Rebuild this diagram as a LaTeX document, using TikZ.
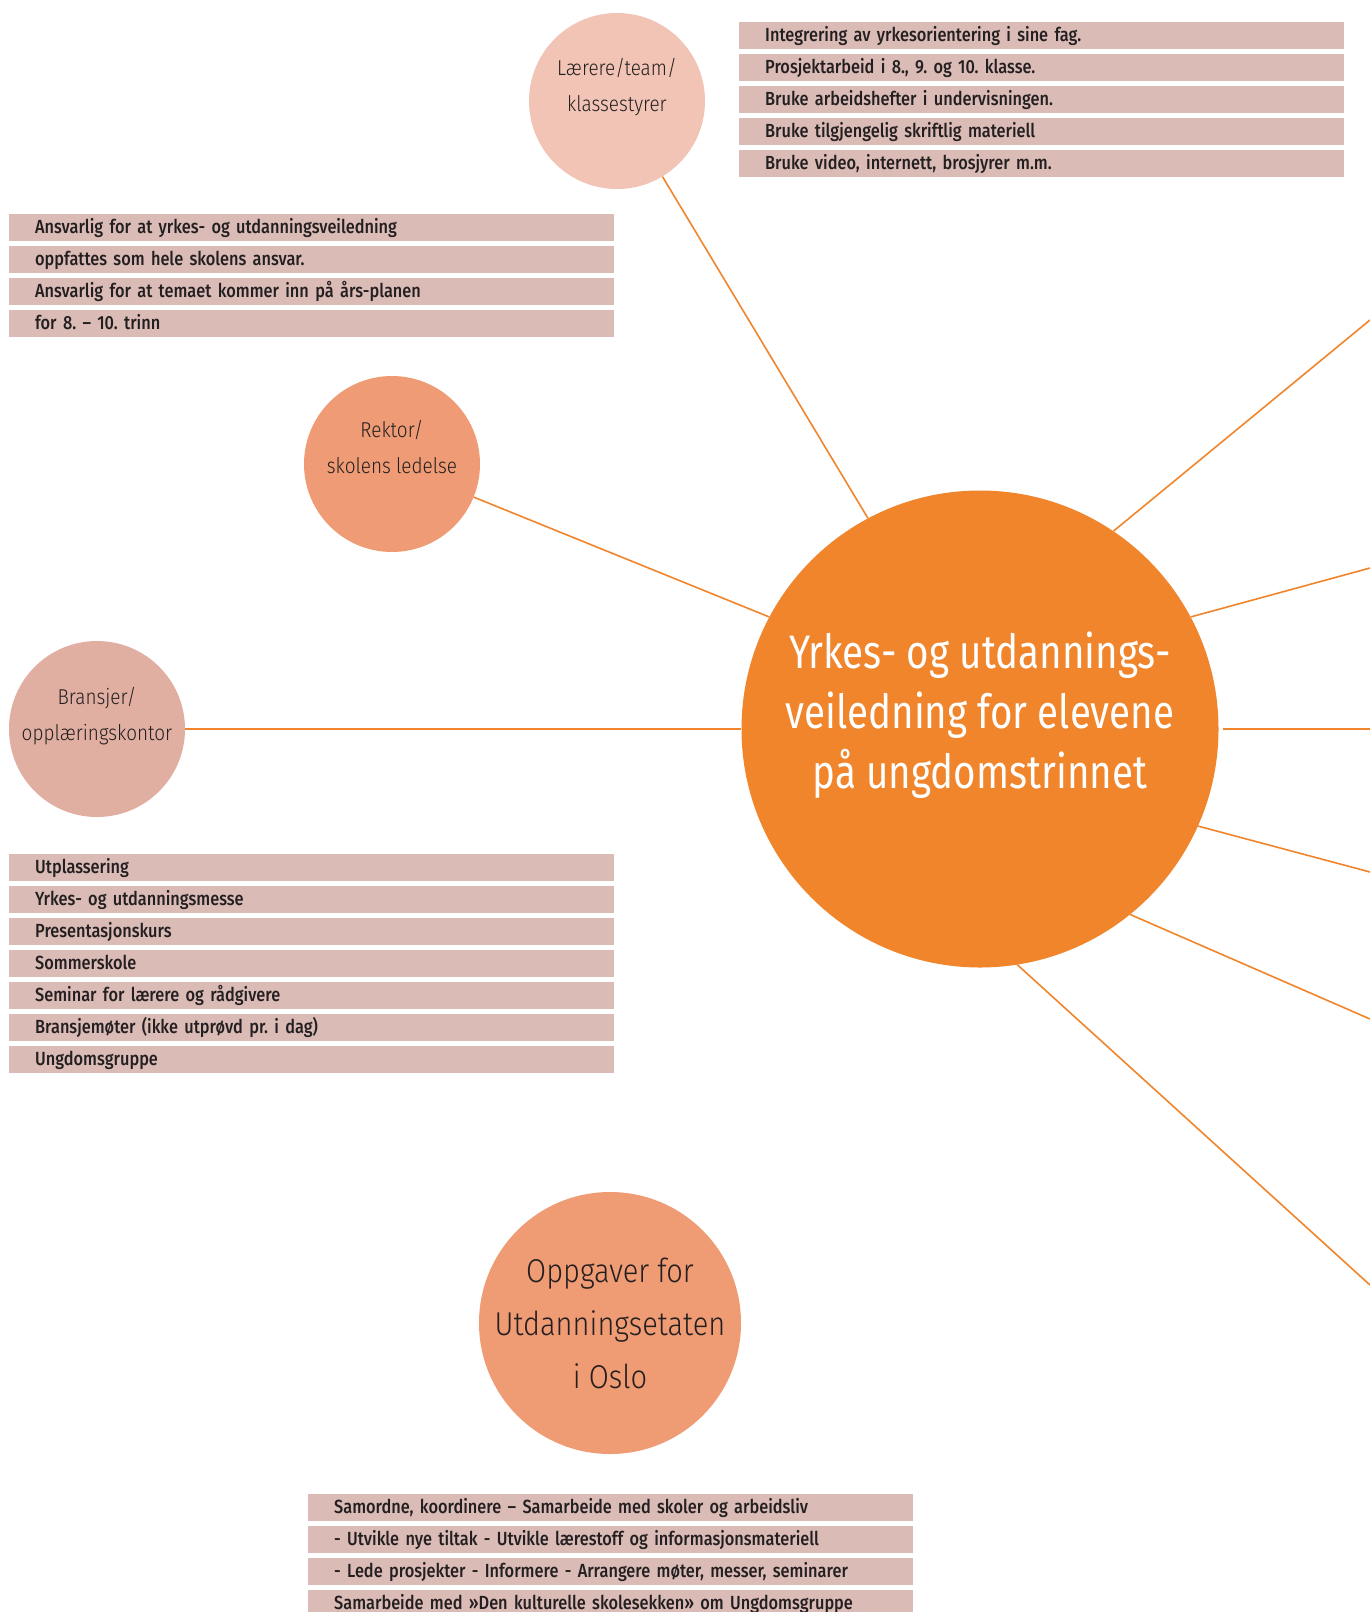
\documentclass[tikz,border=0pt]{standalone}
\usepackage{fontspec}
\setmainfont{Fira Sans}
\IfFontExistsTF{Fira Sans Book}
  {\newfontfamily\circfont[FakeStretch=0.88]{Fira Sans Book}}
  {\IfFontExistsTF{Fira Sans Light}
    {\newfontfamily\circfont[FakeStretch=0.88]{Fira Sans Light}}
    {\newfontfamily\circfont[FakeStretch=0.88]{Fira Sans}}}
\IfFontExistsTF{Fira Sans Medium}
  {\newfontfamily\barfont[FakeStretch=0.86]{Fira Sans Medium}}
  {\newfontfamily\barfont[FakeStretch=0.88]{Fira Sans}}
\newfontfamily\centfont[FakeStretch=0.82]{Fira Sans}
\definecolor{centcol}{HTML}{F0852C}
\definecolor{larcol}{HTML}{F2C4B5}
\definecolor{rekcol}{HTML}{EF9B75}
\definecolor{bracol}{HTML}{E1AFA2}
\definecolor{oppcol}{HTML}{EF9B73}
\definecolor{barcol}{HTML}{DABBB5}
\definecolor{lncol}{HTML}{F0852C}
\definecolor{txt}{HTML}{231F20}
\frenchspacing
\begin{document}
\begin{tikzpicture}[x=1pt,y=-1pt,
  bar/.style={fill=barcol, anchor=north west, minimum height=26.5pt,
    text width=553pt, inner xsep=26pt, inner ysep=0pt, align=left,
    text height=12.8pt, text depth=0pt, text=txt,
    font=\barfont\fontsize{19}{20}\selectfont},
  circ/.style={circle, minimum size=176pt, inner sep=0pt},
  ctext/.style={align=center, inner sep=0pt, text=txt,
    font=\circfont\fontsize{21.5}{35.5}\selectfont},
  conn/.style={draw=lncol, line width=1.6pt}]
\useasboundingbox (0,0) rectangle (1370,1612);
\clip (0,0) rectangle (1370,1612);
\fill[white] (0,0) rectangle (1370,1612);

% circles
\node[circle, minimum size=477pt, inner sep=0pt, fill=centcol] (c) at (980,729) {};
\node[circ, fill=larcol] (lar) at (617,101) {};
\node[circ, fill=rekcol] (rek) at (392,464) {};
\node[circ, fill=bracol] (bra) at (97,729) {};
\node[circle, minimum size=262pt, inner sep=0pt, fill=oppcol] (opp) at (610,1323) {};

% circle texts
\node[align=center, inner sep=0pt, text=white,
  font=\centfont\fontsize{47}{60}\selectfont] (ct) at (980,715.5)
  {Yrkes- og utdannings-\\veiledning for elevene\\på ungdomstrinnet};
\node[ctext] (lart) at (617,87) {Lærere/team/\\klassestyrer};
\node[ctext] (rekt) at (392,447) {Rektor/\\skolens ledelse};
\node[ctext] (brat) at (97,716) {Bransjer/\\opplæringskontor};
\node[align=center, inner sep=0pt, text=txt,
  font=\circfont\fontsize{33}{53}\selectfont] (oppt) at (610,1323)
  {Oppgaver for\\Utdanningsetaten\\i Oslo};

% connectors
\draw[conn] (lar) -- (c.118);
\draw[conn] (rek) -- (c.152.5);
\draw[conn] (bra) -- (c);
\coordinate (e1) at (1370,320);
\coordinate (e2) at (1370,568);
\coordinate (e3) at (1370,729);
\coordinate (e4) at (1370,872);
\coordinate (e5) at (1370,1019);
\coordinate (e6) at (1370,1285);
\draw[conn] (c.56.4) -- (e1);
\draw[conn] (c.28.3) -- (e2);
\draw[conn] ([xshift=4pt]c.east) -- (e3);
\draw[conn] (c.-24.7) -- (e4);
\draw[conn] (c.-51.8) -- (e5);
\draw[conn] (c.-81.8) -- (e6);

% Lærere bars
\node[bar] (l1) at (739,22) {Integrering av yrkesorientering i sine fag.};
\node[bar] (l2) at (739,54) {Prosjektarbeid i 8., 9. og 10. klasse.};
\node[bar] (l3) at (739,86) {Bruke arbeidshefter i undervisningen.};
\node[bar] (l4) at (739,118) {Bruke tilgjengelig skriftlig materiell};
\node[bar] (l5) at (739,150) {Bruke video, internett, brosjyrer m.m.};

% Rektor bars
\node[bar] (r1) at (9,214) {Ansvarlig for at yrkes- og utdanningsveiledning};
\node[bar] (r2) at (9,246) {oppfattes som hele skolens ansvar.};
\node[bar] (r3) at (9,278) {Ansvarlig for at temaet kommer inn på års-planen};
\node[bar] (r4) at (9,310) {for 8. – 10. trinn};

% Bransjer bars
\node[bar] (b1) at (9,854) {Utplassering};
\node[bar] (b2) at (9,886) {Yrkes- og utdanningsmesse};
\node[bar] (b3) at (9,918) {Presentasjonskurs};
\node[bar] (b4) at (9,950) {Sommerskole};
\node[bar] (b5) at (9,982) {Seminar for lærere og rådgivere};
\node[bar] (b6) at (9,1014) {Bransjemøter (ikke utprøvd pr. i dag)};
\node[bar] (b7) at (9,1046) {Ungdomsgruppe};

% Oppgaver bars
\node[bar] (o1) at (308,1494) {Samordne, koordinere – Samarbeide med skoler og arbeidsliv};
\node[bar] (o2) at (308,1526) {- Utvikle nye tiltak - Utvikle lærestoff og informasjonsmateriell};
\node[bar] (o3) at (308,1558) {- Lede prosjekter - Informere - Arrangere møter, messer, seminarer};
\node[bar] (o4) at (308,1590) {Samarbeide med »Den kulturelle skolesekken» om Ungdomsgruppe};
\end{tikzpicture}
\end{document}
